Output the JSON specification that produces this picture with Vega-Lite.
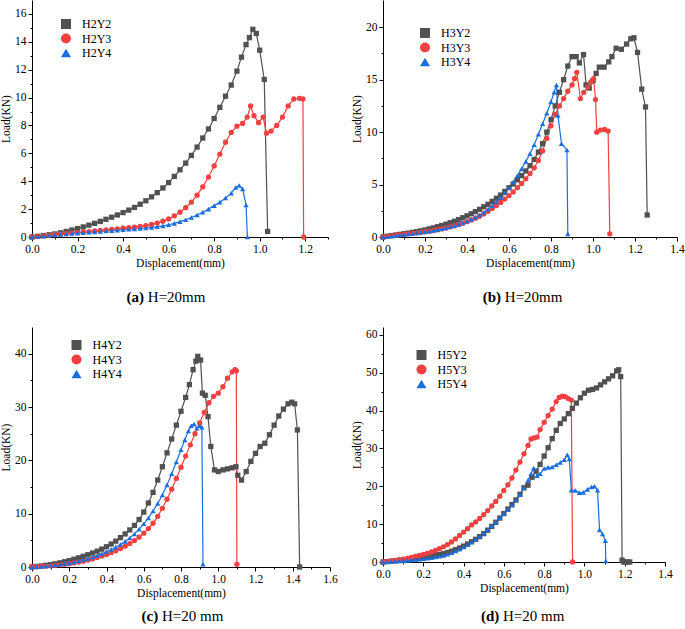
{
"$schema": "https://vega.github.io/schema/vega-lite/v6.json",
"padding": {"left": 0, "top": 0, "right": 0, "bottom": 0},
"background": "white",
"config": {
  "view": {"stroke": null},
  "axis": {"grid": false, "domainColor": "black", "domainWidth": 1, "tickColor": "black", "tickWidth": 1, "tickSize": 4, "labelFont": "Liberation Serif", "labelFontSize": 11.5, "labelColor": "black", "labelPadding": 2, "titleFont": "Liberation Serif", "titleFontSize": 11.5, "titleFontWeight": "normal", "titleColor": "black", "labelFlush": false, "labelOverlap": false},
  "title": {"font": "Liberation Serif", "fontSize": 15, "color": "black", "fontWeight": "bold", "subtitleFont": "Liberation Serif", "subtitleFontSize": 15, "subtitleColor": "black", "subtitleFontWeight": "normal", "subtitlePadding": -15, "orient": "bottom", "anchor": "middle", "frame": "group"},
  "legend": {"padding": 0, "symbolSize": 100, "symbolStrokeWidth": 0, "labelOffset": 10, "rowPadding": 2.5, "labelFont": "Liberation Serif", "labelFontSize": 12, "labelColor": "black"}
},
"resolve": {"scale": {"color": "independent", "shape": "independent"}, "legend": {"color": "independent", "shape": "independent"}},
"datasets": {
"a": [
{"s":"H2Y2","x":0,"y":0},{"s":"H2Y2","x":0.025,"y":0.05},{"s":"H2Y2","x":0.05,"y":0.1},{"s":"H2Y2","x":0.075,"y":0.16},{"s":"H2Y2","x":0.1,"y":0.22},{"s":"H2Y2","x":0.125,"y":0.3},{"s":"H2Y2","x":0.15,"y":0.4},{"s":"H2Y2","x":0.175,"y":0.5},{"s":"H2Y2","x":0.2,"y":0.6},{"s":"H2Y2","x":0.225,"y":0.72},{"s":"H2Y2","x":0.25,"y":0.85},{"s":"H2Y2","x":0.275,"y":0.98},{"s":"H2Y2","x":0.3,"y":1.12},{"s":"H2Y2","x":0.325,"y":1.27},{"s":"H2Y2","x":0.35,"y":1.42},{"s":"H2Y2","x":0.375,"y":1.58},{"s":"H2Y2","x":0.4,"y":1.75},{"s":"H2Y2","x":0.425,"y":1.93},{"s":"H2Y2","x":0.45,"y":2.12},{"s":"H2Y2","x":0.475,"y":2.35},{"s":"H2Y2","x":0.5,"y":2.6},{"s":"H2Y2","x":0.525,"y":2.88},{"s":"H2Y2","x":0.55,"y":3.18},{"s":"H2Y2","x":0.575,"y":3.52},{"s":"H2Y2","x":0.6,"y":3.9},{"s":"H2Y2","x":0.625,"y":4.35},{"s":"H2Y2","x":0.65,"y":4.82},{"s":"H2Y2","x":0.675,"y":5.3},{"s":"H2Y2","x":0.7,"y":5.85},{"s":"H2Y2","x":0.725,"y":6.45},{"s":"H2Y2","x":0.75,"y":7.1},{"s":"H2Y2","x":0.775,"y":7.75},{"s":"H2Y2","x":0.8,"y":8.5},{"s":"H2Y2","x":0.825,"y":9.3},{"s":"H2Y2","x":0.85,"y":10.1},{"s":"H2Y2","x":0.875,"y":10.9},{"s":"H2Y2","x":0.9,"y":11.9},{"s":"H2Y2","x":0.92,"y":12.9},{"s":"H2Y2","x":0.94,"y":13.8},{"s":"H2Y2","x":0.955,"y":14.3},{"s":"H2Y2","x":0.97,"y":14.9},{"s":"H2Y2","x":0.985,"y":14.6},{"s":"H2Y2","x":1.0,"y":13.4},{"s":"H2Y2","x":1.02,"y":11.3},{"s":"H2Y2","x":1.035,"y":0.4},
{"s":"H2Y3","x":0,"y":0},{"s":"H2Y3","x":0.025,"y":0.04},{"s":"H2Y3","x":0.05,"y":0.08},{"s":"H2Y3","x":0.075,"y":0.12},{"s":"H2Y3","x":0.1,"y":0.16},{"s":"H2Y3","x":0.125,"y":0.2},{"s":"H2Y3","x":0.15,"y":0.24},{"s":"H2Y3","x":0.175,"y":0.28},{"s":"H2Y3","x":0.2,"y":0.32},{"s":"H2Y3","x":0.225,"y":0.35},{"s":"H2Y3","x":0.25,"y":0.39},{"s":"H2Y3","x":0.275,"y":0.43},{"s":"H2Y3","x":0.3,"y":0.47},{"s":"H2Y3","x":0.325,"y":0.51},{"s":"H2Y3","x":0.35,"y":0.55},{"s":"H2Y3","x":0.375,"y":0.59},{"s":"H2Y3","x":0.4,"y":0.63},{"s":"H2Y3","x":0.425,"y":0.67},{"s":"H2Y3","x":0.45,"y":0.71},{"s":"H2Y3","x":0.475,"y":0.76},{"s":"H2Y3","x":0.5,"y":0.82},{"s":"H2Y3","x":0.525,"y":0.9},{"s":"H2Y3","x":0.55,"y":1.0},{"s":"H2Y3","x":0.575,"y":1.13},{"s":"H2Y3","x":0.6,"y":1.3},{"s":"H2Y3","x":0.625,"y":1.52},{"s":"H2Y3","x":0.65,"y":1.78},{"s":"H2Y3","x":0.675,"y":2.1},{"s":"H2Y3","x":0.7,"y":2.5},{"s":"H2Y3","x":0.725,"y":3.0},{"s":"H2Y3","x":0.75,"y":3.6},{"s":"H2Y3","x":0.775,"y":4.3},{"s":"H2Y3","x":0.8,"y":5.1},{"s":"H2Y3","x":0.825,"y":5.95},{"s":"H2Y3","x":0.85,"y":6.8},{"s":"H2Y3","x":0.875,"y":7.5},{"s":"H2Y3","x":0.9,"y":7.95},{"s":"H2Y3","x":0.925,"y":8.15},{"s":"H2Y3","x":0.945,"y":8.6},{"s":"H2Y3","x":0.96,"y":9.4},{"s":"H2Y3","x":0.975,"y":8.7},{"s":"H2Y3","x":0.995,"y":8.2},{"s":"H2Y3","x":1.015,"y":8.6},{"s":"H2Y3","x":1.03,"y":7.45},{"s":"H2Y3","x":1.05,"y":7.6},{"s":"H2Y3","x":1.075,"y":8.0},{"s":"H2Y3","x":1.1,"y":8.6},{"s":"H2Y3","x":1.125,"y":9.4},{"s":"H2Y3","x":1.15,"y":9.9},{"s":"H2Y3","x":1.175,"y":9.95},{"s":"H2Y3","x":1.19,"y":9.9},{"s":"H2Y3","x":1.193,"y":0},
{"s":"H2Y4","x":0,"y":0},{"s":"H2Y4","x":0.025,"y":0.04},{"s":"H2Y4","x":0.05,"y":0.08},{"s":"H2Y4","x":0.075,"y":0.12},{"s":"H2Y4","x":0.1,"y":0.16},{"s":"H2Y4","x":0.125,"y":0.19},{"s":"H2Y4","x":0.15,"y":0.22},{"s":"H2Y4","x":0.175,"y":0.25},{"s":"H2Y4","x":0.2,"y":0.28},{"s":"H2Y4","x":0.225,"y":0.31},{"s":"H2Y4","x":0.25,"y":0.34},{"s":"H2Y4","x":0.275,"y":0.37},{"s":"H2Y4","x":0.3,"y":0.4},{"s":"H2Y4","x":0.325,"y":0.43},{"s":"H2Y4","x":0.35,"y":0.46},{"s":"H2Y4","x":0.375,"y":0.49},{"s":"H2Y4","x":0.4,"y":0.52},{"s":"H2Y4","x":0.425,"y":0.55},{"s":"H2Y4","x":0.45,"y":0.58},{"s":"H2Y4","x":0.475,"y":0.61},{"s":"H2Y4","x":0.5,"y":0.65},{"s":"H2Y4","x":0.525,"y":0.69},{"s":"H2Y4","x":0.55,"y":0.74},{"s":"H2Y4","x":0.575,"y":0.8},{"s":"H2Y4","x":0.6,"y":0.88},{"s":"H2Y4","x":0.625,"y":0.98},{"s":"H2Y4","x":0.65,"y":1.1},{"s":"H2Y4","x":0.675,"y":1.24},{"s":"H2Y4","x":0.7,"y":1.4},{"s":"H2Y4","x":0.725,"y":1.58},{"s":"H2Y4","x":0.75,"y":1.78},{"s":"H2Y4","x":0.775,"y":2.0},{"s":"H2Y4","x":0.8,"y":2.25},{"s":"H2Y4","x":0.825,"y":2.5},{"s":"H2Y4","x":0.85,"y":2.8},{"s":"H2Y4","x":0.875,"y":3.15},{"s":"H2Y4","x":0.895,"y":3.55},{"s":"H2Y4","x":0.91,"y":3.7},{"s":"H2Y4","x":0.925,"y":3.45},{"s":"H2Y4","x":0.94,"y":2.3},{"s":"H2Y4","x":0.946,"y":0}
],
"b": [
{"s":"H3Y2","x":0,"y":0},{"s":"H3Y2","x":0.02,"y":0.07},{"s":"H3Y2","x":0.04,"y":0.13},{"s":"H3Y2","x":0.06,"y":0.19},{"s":"H3Y2","x":0.08,"y":0.25},{"s":"H3Y2","x":0.1,"y":0.31},{"s":"H3Y2","x":0.12,"y":0.37},{"s":"H3Y2","x":0.14,"y":0.44},{"s":"H3Y2","x":0.16,"y":0.51},{"s":"H3Y2","x":0.18,"y":0.59},{"s":"H3Y2","x":0.2,"y":0.67},{"s":"H3Y2","x":0.22,"y":0.77},{"s":"H3Y2","x":0.24,"y":0.87},{"s":"H3Y2","x":0.26,"y":0.98},{"s":"H3Y2","x":0.28,"y":1.1},{"s":"H3Y2","x":0.3,"y":1.22},{"s":"H3Y2","x":0.32,"y":1.36},{"s":"H3Y2","x":0.34,"y":1.5},{"s":"H3Y2","x":0.36,"y":1.66},{"s":"H3Y2","x":0.38,"y":1.84},{"s":"H3Y2","x":0.4,"y":2.02},{"s":"H3Y2","x":0.42,"y":2.22},{"s":"H3Y2","x":0.44,"y":2.42},{"s":"H3Y2","x":0.46,"y":2.64},{"s":"H3Y2","x":0.48,"y":2.88},{"s":"H3Y2","x":0.5,"y":3.12},{"s":"H3Y2","x":0.52,"y":3.4},{"s":"H3Y2","x":0.54,"y":3.7},{"s":"H3Y2","x":0.56,"y":4.0},{"s":"H3Y2","x":0.58,"y":4.35},{"s":"H3Y2","x":0.6,"y":4.7},{"s":"H3Y2","x":0.62,"y":5.05},{"s":"H3Y2","x":0.64,"y":5.45},{"s":"H3Y2","x":0.66,"y":5.85},{"s":"H3Y2","x":0.68,"y":6.3},{"s":"H3Y2","x":0.7,"y":6.8},{"s":"H3Y2","x":0.72,"y":7.4},{"s":"H3Y2","x":0.74,"y":8.1},{"s":"H3Y2","x":0.76,"y":8.9},{"s":"H3Y2","x":0.78,"y":10.0},{"s":"H3Y2","x":0.8,"y":11.2},{"s":"H3Y2","x":0.82,"y":12.5},{"s":"H3Y2","x":0.84,"y":13.8},{"s":"H3Y2","x":0.86,"y":15.0},{"s":"H3Y2","x":0.88,"y":16.3},{"s":"H3Y2","x":0.9,"y":17.2},{"s":"H3Y2","x":0.92,"y":17.2},{"s":"H3Y2","x":0.935,"y":16.6},{"s":"H3Y2","x":0.955,"y":17.4},{"s":"H3Y2","x":0.967,"y":14.5},{"s":"H3Y2","x":0.982,"y":14.2},{"s":"H3Y2","x":1.0,"y":14.9},{"s":"H3Y2","x":1.015,"y":15.6},{"s":"H3Y2","x":1.03,"y":16.2},{"s":"H3Y2","x":1.053,"y":16.2},{"s":"H3Y2","x":1.075,"y":16.7},{"s":"H3Y2","x":1.09,"y":17.2},{"s":"H3Y2","x":1.11,"y":18.0},{"s":"H3Y2","x":1.135,"y":17.9},{"s":"H3Y2","x":1.16,"y":18.4},{"s":"H3Y2","x":1.18,"y":18.9},{"s":"H3Y2","x":1.195,"y":19.0},{"s":"H3Y2","x":1.212,"y":17.6},{"s":"H3Y2","x":1.232,"y":14.1},{"s":"H3Y2","x":1.25,"y":12.4},{"s":"H3Y2","x":1.258,"y":2.1},
{"s":"H3Y3","x":0,"y":0},{"s":"H3Y3","x":0.02,"y":0.06},{"s":"H3Y3","x":0.04,"y":0.11},{"s":"H3Y3","x":0.06,"y":0.16},{"s":"H3Y3","x":0.08,"y":0.2},{"s":"H3Y3","x":0.1,"y":0.25},{"s":"H3Y3","x":0.12,"y":0.3},{"s":"H3Y3","x":0.14,"y":0.35},{"s":"H3Y3","x":0.16,"y":0.4},{"s":"H3Y3","x":0.18,"y":0.45},{"s":"H3Y3","x":0.2,"y":0.5},{"s":"H3Y3","x":0.22,"y":0.56},{"s":"H3Y3","x":0.24,"y":0.62},{"s":"H3Y3","x":0.26,"y":0.69},{"s":"H3Y3","x":0.28,"y":0.77},{"s":"H3Y3","x":0.3,"y":0.86},{"s":"H3Y3","x":0.32,"y":0.96},{"s":"H3Y3","x":0.34,"y":1.07},{"s":"H3Y3","x":0.36,"y":1.19},{"s":"H3Y3","x":0.38,"y":1.32},{"s":"H3Y3","x":0.4,"y":1.46},{"s":"H3Y3","x":0.42,"y":1.62},{"s":"H3Y3","x":0.44,"y":1.79},{"s":"H3Y3","x":0.46,"y":1.98},{"s":"H3Y3","x":0.48,"y":2.2},{"s":"H3Y3","x":0.5,"y":2.45},{"s":"H3Y3","x":0.52,"y":2.72},{"s":"H3Y3","x":0.54,"y":3.0},{"s":"H3Y3","x":0.56,"y":3.3},{"s":"H3Y3","x":0.58,"y":3.62},{"s":"H3Y3","x":0.6,"y":3.95},{"s":"H3Y3","x":0.62,"y":4.3},{"s":"H3Y3","x":0.64,"y":4.7},{"s":"H3Y3","x":0.66,"y":5.1},{"s":"H3Y3","x":0.68,"y":5.55},{"s":"H3Y3","x":0.7,"y":6.05},{"s":"H3Y3","x":0.72,"y":6.6},{"s":"H3Y3","x":0.74,"y":7.3},{"s":"H3Y3","x":0.76,"y":8.2},{"s":"H3Y3","x":0.78,"y":9.4},{"s":"H3Y3","x":0.8,"y":10.6},{"s":"H3Y3","x":0.82,"y":11.7},{"s":"H3Y3","x":0.84,"y":12.5},{"s":"H3Y3","x":0.86,"y":13.2},{"s":"H3Y3","x":0.88,"y":13.9},{"s":"H3Y3","x":0.9,"y":14.5},{"s":"H3Y3","x":0.912,"y":15.1},{"s":"H3Y3","x":0.923,"y":15.7},{"s":"H3Y3","x":0.94,"y":13.2},{"s":"H3Y3","x":0.956,"y":13.8},{"s":"H3Y3","x":0.975,"y":14.3},{"s":"H3Y3","x":0.99,"y":14.8},{"s":"H3Y3","x":1.003,"y":15.1},{"s":"H3Y3","x":1.012,"y":13.1},{"s":"H3Y3","x":1.018,"y":10.0},{"s":"H3Y3","x":1.035,"y":10.2},{"s":"H3Y3","x":1.055,"y":10.25},{"s":"H3Y3","x":1.072,"y":10.1},{"s":"H3Y3","x":1.08,"y":0.3},
{"s":"H3Y4","x":0,"y":0},{"s":"H3Y4","x":0.02,"y":0.05},{"s":"H3Y4","x":0.04,"y":0.1},{"s":"H3Y4","x":0.06,"y":0.15},{"s":"H3Y4","x":0.08,"y":0.2},{"s":"H3Y4","x":0.1,"y":0.24},{"s":"H3Y4","x":0.12,"y":0.29},{"s":"H3Y4","x":0.14,"y":0.34},{"s":"H3Y4","x":0.16,"y":0.39},{"s":"H3Y4","x":0.18,"y":0.44},{"s":"H3Y4","x":0.2,"y":0.5},{"s":"H3Y4","x":0.22,"y":0.56},{"s":"H3Y4","x":0.24,"y":0.63},{"s":"H3Y4","x":0.26,"y":0.7},{"s":"H3Y4","x":0.28,"y":0.78},{"s":"H3Y4","x":0.3,"y":0.87},{"s":"H3Y4","x":0.32,"y":0.97},{"s":"H3Y4","x":0.34,"y":1.08},{"s":"H3Y4","x":0.36,"y":1.2},{"s":"H3Y4","x":0.38,"y":1.34},{"s":"H3Y4","x":0.4,"y":1.5},{"s":"H3Y4","x":0.42,"y":1.68},{"s":"H3Y4","x":0.44,"y":1.88},{"s":"H3Y4","x":0.46,"y":2.1},{"s":"H3Y4","x":0.48,"y":2.36},{"s":"H3Y4","x":0.5,"y":2.65},{"s":"H3Y4","x":0.52,"y":2.98},{"s":"H3Y4","x":0.54,"y":3.35},{"s":"H3Y4","x":0.56,"y":3.75},{"s":"H3Y4","x":0.58,"y":4.2},{"s":"H3Y4","x":0.6,"y":4.7},{"s":"H3Y4","x":0.62,"y":5.25},{"s":"H3Y4","x":0.64,"y":5.85},{"s":"H3Y4","x":0.66,"y":6.5},{"s":"H3Y4","x":0.68,"y":7.2},{"s":"H3Y4","x":0.7,"y":7.95},{"s":"H3Y4","x":0.72,"y":8.8},{"s":"H3Y4","x":0.74,"y":9.8},{"s":"H3Y4","x":0.76,"y":10.8},{"s":"H3Y4","x":0.78,"y":11.8},{"s":"H3Y4","x":0.8,"y":12.9},{"s":"H3Y4","x":0.815,"y":13.8},{"s":"H3Y4","x":0.826,"y":14.5},{"s":"H3Y4","x":0.833,"y":11.6},{"s":"H3Y4","x":0.85,"y":8.9},{"s":"H3Y4","x":0.876,"y":8.3},{"s":"H3Y4","x":0.88,"y":0.3}
],
"c": [
{"s":"H4Y2","x":0,"y":0},{"s":"H4Y2","x":0.025,"y":0.1},{"s":"H4Y2","x":0.05,"y":0.2},{"s":"H4Y2","x":0.075,"y":0.32},{"s":"H4Y2","x":0.1,"y":0.45},{"s":"H4Y2","x":0.125,"y":0.6},{"s":"H4Y2","x":0.15,"y":0.78},{"s":"H4Y2","x":0.175,"y":0.98},{"s":"H4Y2","x":0.2,"y":1.2},{"s":"H4Y2","x":0.225,"y":1.45},{"s":"H4Y2","x":0.25,"y":1.72},{"s":"H4Y2","x":0.275,"y":2.0},{"s":"H4Y2","x":0.3,"y":2.3},{"s":"H4Y2","x":0.325,"y":2.62},{"s":"H4Y2","x":0.35,"y":2.97},{"s":"H4Y2","x":0.375,"y":3.35},{"s":"H4Y2","x":0.4,"y":3.8},{"s":"H4Y2","x":0.425,"y":4.3},{"s":"H4Y2","x":0.45,"y":4.85},{"s":"H4Y2","x":0.475,"y":5.5},{"s":"H4Y2","x":0.5,"y":6.2},{"s":"H4Y2","x":0.525,"y":6.95},{"s":"H4Y2","x":0.55,"y":7.8},{"s":"H4Y2","x":0.575,"y":8.9},{"s":"H4Y2","x":0.6,"y":10.3},{"s":"H4Y2","x":0.625,"y":12.0},{"s":"H4Y2","x":0.65,"y":14.0},{"s":"H4Y2","x":0.675,"y":16.3},{"s":"H4Y2","x":0.7,"y":18.8},{"s":"H4Y2","x":0.725,"y":21.4},{"s":"H4Y2","x":0.75,"y":24.0},{"s":"H4Y2","x":0.775,"y":26.6},{"s":"H4Y2","x":0.8,"y":29.2},{"s":"H4Y2","x":0.825,"y":31.8},{"s":"H4Y2","x":0.845,"y":34.2},{"s":"H4Y2","x":0.865,"y":37.0},{"s":"H4Y2","x":0.88,"y":38.6},{"s":"H4Y2","x":0.89,"y":39.5},{"s":"H4Y2","x":0.905,"y":38.8},{"s":"H4Y2","x":0.915,"y":32.6},{"s":"H4Y2","x":0.93,"y":32.2},{"s":"H4Y2","x":0.945,"y":28.2},{"s":"H4Y2","x":0.96,"y":22.6},{"s":"H4Y2","x":0.98,"y":18.2},{"s":"H4Y2","x":1.0,"y":17.9},{"s":"H4Y2","x":1.025,"y":18.2},{"s":"H4Y2","x":1.05,"y":18.4},{"s":"H4Y2","x":1.075,"y":18.6},{"s":"H4Y2","x":1.095,"y":18.8},{"s":"H4Y2","x":1.105,"y":17.2},{"s":"H4Y2","x":1.125,"y":16.3},{"s":"H4Y2","x":1.15,"y":17.9},{"s":"H4Y2","x":1.175,"y":19.8},{"s":"H4Y2","x":1.2,"y":21.3},{"s":"H4Y2","x":1.225,"y":22.6},{"s":"H4Y2","x":1.25,"y":23.2},{"s":"H4Y2","x":1.275,"y":24.8},{"s":"H4Y2","x":1.3,"y":26.6},{"s":"H4Y2","x":1.325,"y":28.3},{"s":"H4Y2","x":1.35,"y":29.6},{"s":"H4Y2","x":1.375,"y":30.6},{"s":"H4Y2","x":1.395,"y":30.9},{"s":"H4Y2","x":1.41,"y":30.6},{"s":"H4Y2","x":1.425,"y":25.7},{"s":"H4Y2","x":1.437,"y":0},
{"s":"H4Y3","x":0,"y":0},{"s":"H4Y3","x":0.025,"y":0.05},{"s":"H4Y3","x":0.05,"y":0.1},{"s":"H4Y3","x":0.075,"y":0.16},{"s":"H4Y3","x":0.1,"y":0.23},{"s":"H4Y3","x":0.125,"y":0.31},{"s":"H4Y3","x":0.15,"y":0.4},{"s":"H4Y3","x":0.175,"y":0.5},{"s":"H4Y3","x":0.2,"y":0.62},{"s":"H4Y3","x":0.225,"y":0.76},{"s":"H4Y3","x":0.25,"y":0.92},{"s":"H4Y3","x":0.275,"y":1.1},{"s":"H4Y3","x":0.3,"y":1.3},{"s":"H4Y3","x":0.325,"y":1.52},{"s":"H4Y3","x":0.35,"y":1.77},{"s":"H4Y3","x":0.375,"y":2.05},{"s":"H4Y3","x":0.4,"y":2.35},{"s":"H4Y3","x":0.425,"y":2.68},{"s":"H4Y3","x":0.45,"y":3.05},{"s":"H4Y3","x":0.475,"y":3.45},{"s":"H4Y3","x":0.5,"y":3.9},{"s":"H4Y3","x":0.525,"y":4.4},{"s":"H4Y3","x":0.55,"y":4.95},{"s":"H4Y3","x":0.575,"y":5.6},{"s":"H4Y3","x":0.6,"y":6.35},{"s":"H4Y3","x":0.625,"y":7.2},{"s":"H4Y3","x":0.65,"y":8.2},{"s":"H4Y3","x":0.675,"y":9.5},{"s":"H4Y3","x":0.7,"y":11.0},{"s":"H4Y3","x":0.725,"y":12.7},{"s":"H4Y3","x":0.75,"y":14.6},{"s":"H4Y3","x":0.775,"y":16.6},{"s":"H4Y3","x":0.8,"y":18.7},{"s":"H4Y3","x":0.825,"y":20.8},{"s":"H4Y3","x":0.85,"y":22.9},{"s":"H4Y3","x":0.875,"y":25.0},{"s":"H4Y3","x":0.9,"y":27.0},{"s":"H4Y3","x":0.925,"y":29.0},{"s":"H4Y3","x":0.95,"y":30.8},{"s":"H4Y3","x":0.975,"y":32.0},{"s":"H4Y3","x":1.0,"y":32.6},{"s":"H4Y3","x":1.025,"y":33.8},{"s":"H4Y3","x":1.05,"y":35.4},{"s":"H4Y3","x":1.075,"y":36.6},{"s":"H4Y3","x":1.09,"y":37.0},{"s":"H4Y3","x":1.097,"y":36.8},{"s":"H4Y3","x":1.1,"y":0.5},
{"s":"H4Y4","x":0,"y":0},{"s":"H4Y4","x":0.025,"y":0.06},{"s":"H4Y4","x":0.05,"y":0.12},{"s":"H4Y4","x":0.075,"y":0.2},{"s":"H4Y4","x":0.1,"y":0.29},{"s":"H4Y4","x":0.125,"y":0.39},{"s":"H4Y4","x":0.15,"y":0.5},{"s":"H4Y4","x":0.175,"y":0.63},{"s":"H4Y4","x":0.2,"y":0.78},{"s":"H4Y4","x":0.225,"y":0.95},{"s":"H4Y4","x":0.25,"y":1.14},{"s":"H4Y4","x":0.275,"y":1.36},{"s":"H4Y4","x":0.3,"y":1.6},{"s":"H4Y4","x":0.325,"y":1.87},{"s":"H4Y4","x":0.35,"y":2.17},{"s":"H4Y4","x":0.375,"y":2.5},{"s":"H4Y4","x":0.4,"y":2.87},{"s":"H4Y4","x":0.425,"y":3.27},{"s":"H4Y4","x":0.45,"y":3.72},{"s":"H4Y4","x":0.475,"y":4.22},{"s":"H4Y4","x":0.5,"y":4.8},{"s":"H4Y4","x":0.525,"y":5.45},{"s":"H4Y4","x":0.55,"y":6.2},{"s":"H4Y4","x":0.575,"y":7.1},{"s":"H4Y4","x":0.6,"y":8.1},{"s":"H4Y4","x":0.625,"y":9.2},{"s":"H4Y4","x":0.65,"y":10.5},{"s":"H4Y4","x":0.675,"y":11.9},{"s":"H4Y4","x":0.7,"y":13.5},{"s":"H4Y4","x":0.725,"y":15.4},{"s":"H4Y4","x":0.75,"y":17.5},{"s":"H4Y4","x":0.775,"y":19.7},{"s":"H4Y4","x":0.8,"y":22.0},{"s":"H4Y4","x":0.82,"y":23.8},{"s":"H4Y4","x":0.84,"y":25.5},{"s":"H4Y4","x":0.855,"y":26.5},{"s":"H4Y4","x":0.87,"y":26.8},{"s":"H4Y4","x":0.885,"y":26.0},{"s":"H4Y4","x":0.9,"y":26.5},{"s":"H4Y4","x":0.912,"y":26.2},{"s":"H4Y4","x":0.918,"y":0.5}
],
"d": [
{"s":"H5Y2","x":0,"y":0},{"s":"H5Y2","x":0.02,"y":0.1},{"s":"H5Y2","x":0.04,"y":0.2},{"s":"H5Y2","x":0.06,"y":0.3},{"s":"H5Y2","x":0.08,"y":0.4},{"s":"H5Y2","x":0.1,"y":0.5},{"s":"H5Y2","x":0.12,"y":0.6},{"s":"H5Y2","x":0.14,"y":0.72},{"s":"H5Y2","x":0.16,"y":0.85},{"s":"H5Y2","x":0.18,"y":1.0},{"s":"H5Y2","x":0.2,"y":1.15},{"s":"H5Y2","x":0.22,"y":1.3},{"s":"H5Y2","x":0.24,"y":1.5},{"s":"H5Y2","x":0.26,"y":1.7},{"s":"H5Y2","x":0.28,"y":1.95},{"s":"H5Y2","x":0.3,"y":2.2},{"s":"H5Y2","x":0.32,"y":2.5},{"s":"H5Y2","x":0.34,"y":2.85},{"s":"H5Y2","x":0.36,"y":3.25},{"s":"H5Y2","x":0.38,"y":3.7},{"s":"H5Y2","x":0.4,"y":4.2},{"s":"H5Y2","x":0.42,"y":4.75},{"s":"H5Y2","x":0.44,"y":5.35},{"s":"H5Y2","x":0.46,"y":6.0},{"s":"H5Y2","x":0.48,"y":6.7},{"s":"H5Y2","x":0.5,"y":7.5},{"s":"H5Y2","x":0.52,"y":8.4},{"s":"H5Y2","x":0.54,"y":9.4},{"s":"H5Y2","x":0.56,"y":10.5},{"s":"H5Y2","x":0.58,"y":11.6},{"s":"H5Y2","x":0.6,"y":12.8},{"s":"H5Y2","x":0.62,"y":14.0},{"s":"H5Y2","x":0.64,"y":15.2},{"s":"H5Y2","x":0.66,"y":16.4},{"s":"H5Y2","x":0.68,"y":17.9},{"s":"H5Y2","x":0.7,"y":19.6},{"s":"H5Y2","x":0.72,"y":20.3},{"s":"H5Y2","x":0.74,"y":22.4},{"s":"H5Y2","x":0.76,"y":24.0},{"s":"H5Y2","x":0.78,"y":25.8},{"s":"H5Y2","x":0.8,"y":28.0},{"s":"H5Y2","x":0.82,"y":30.2},{"s":"H5Y2","x":0.84,"y":32.6},{"s":"H5Y2","x":0.86,"y":34.8},{"s":"H5Y2","x":0.88,"y":36.6},{"s":"H5Y2","x":0.9,"y":37.8},{"s":"H5Y2","x":0.92,"y":39.2},{"s":"H5Y2","x":0.94,"y":40.6},{"s":"H5Y2","x":0.96,"y":42.0},{"s":"H5Y2","x":0.98,"y":43.4},{"s":"H5Y2","x":1.0,"y":44.6},{"s":"H5Y2","x":1.02,"y":45.4},{"s":"H5Y2","x":1.04,"y":45.6},{"s":"H5Y2","x":1.06,"y":46.0},{"s":"H5Y2","x":1.08,"y":46.8},{"s":"H5Y2","x":1.1,"y":47.6},{"s":"H5Y2","x":1.12,"y":48.4},{"s":"H5Y2","x":1.14,"y":49.2},{"s":"H5Y2","x":1.16,"y":50.5},{"s":"H5Y2","x":1.17,"y":50.8},{"s":"H5Y2","x":1.18,"y":49.0},{"s":"H5Y2","x":1.187,"y":0.5},{"s":"H5Y2","x":1.195,"y":0},{"s":"H5Y2","x":1.205,"y":0},{"s":"H5Y2","x":1.215,"y":0},{"s":"H5Y2","x":1.225,"y":0},
{"s":"H5Y3","x":0,"y":0},{"s":"H5Y3","x":0.02,"y":0.15},{"s":"H5Y3","x":0.04,"y":0.3},{"s":"H5Y3","x":0.06,"y":0.45},{"s":"H5Y3","x":0.08,"y":0.6},{"s":"H5Y3","x":0.1,"y":0.78},{"s":"H5Y3","x":0.12,"y":0.98},{"s":"H5Y3","x":0.14,"y":1.2},{"s":"H5Y3","x":0.16,"y":1.45},{"s":"H5Y3","x":0.18,"y":1.72},{"s":"H5Y3","x":0.2,"y":2.0},{"s":"H5Y3","x":0.22,"y":2.3},{"s":"H5Y3","x":0.24,"y":2.65},{"s":"H5Y3","x":0.26,"y":3.05},{"s":"H5Y3","x":0.28,"y":3.5},{"s":"H5Y3","x":0.3,"y":4.0},{"s":"H5Y3","x":0.32,"y":4.6},{"s":"H5Y3","x":0.34,"y":5.3},{"s":"H5Y3","x":0.36,"y":6.1},{"s":"H5Y3","x":0.38,"y":7.0},{"s":"H5Y3","x":0.4,"y":7.9},{"s":"H5Y3","x":0.42,"y":8.8},{"s":"H5Y3","x":0.44,"y":9.8},{"s":"H5Y3","x":0.46,"y":10.6},{"s":"H5Y3","x":0.48,"y":11.5},{"s":"H5Y3","x":0.5,"y":12.5},{"s":"H5Y3","x":0.52,"y":13.6},{"s":"H5Y3","x":0.54,"y":14.8},{"s":"H5Y3","x":0.56,"y":16.0},{"s":"H5Y3","x":0.58,"y":17.4},{"s":"H5Y3","x":0.6,"y":18.9},{"s":"H5Y3","x":0.62,"y":20.4},{"s":"H5Y3","x":0.64,"y":22.2},{"s":"H5Y3","x":0.66,"y":24.3},{"s":"H5Y3","x":0.68,"y":26.4},{"s":"H5Y3","x":0.7,"y":28.6},{"s":"H5Y3","x":0.72,"y":30.8},{"s":"H5Y3","x":0.735,"y":32.5},{"s":"H5Y3","x":0.75,"y":32.8},{"s":"H5Y3","x":0.765,"y":33.0},{"s":"H5Y3","x":0.78,"y":35.0},{"s":"H5Y3","x":0.8,"y":36.9},{"s":"H5Y3","x":0.82,"y":38.7},{"s":"H5Y3","x":0.84,"y":40.4},{"s":"H5Y3","x":0.86,"y":42.4},{"s":"H5Y3","x":0.875,"y":43.5},{"s":"H5Y3","x":0.89,"y":43.8},{"s":"H5Y3","x":0.905,"y":43.7},{"s":"H5Y3","x":0.92,"y":43.2},{"s":"H5Y3","x":0.935,"y":42.8},{"s":"H5Y3","x":0.941,"y":0},
{"s":"H5Y4","x":0,"y":0},{"s":"H5Y4","x":0.02,"y":0.08},{"s":"H5Y4","x":0.04,"y":0.15},{"s":"H5Y4","x":0.06,"y":0.22},{"s":"H5Y4","x":0.08,"y":0.3},{"s":"H5Y4","x":0.1,"y":0.38},{"s":"H5Y4","x":0.12,"y":0.46},{"s":"H5Y4","x":0.14,"y":0.55},{"s":"H5Y4","x":0.16,"y":0.65},{"s":"H5Y4","x":0.18,"y":0.76},{"s":"H5Y4","x":0.2,"y":0.88},{"s":"H5Y4","x":0.22,"y":1.0},{"s":"H5Y4","x":0.24,"y":1.15},{"s":"H5Y4","x":0.26,"y":1.3},{"s":"H5Y4","x":0.28,"y":1.5},{"s":"H5Y4","x":0.3,"y":1.75},{"s":"H5Y4","x":0.32,"y":2.05},{"s":"H5Y4","x":0.34,"y":2.45},{"s":"H5Y4","x":0.36,"y":2.9},{"s":"H5Y4","x":0.38,"y":3.4},{"s":"H5Y4","x":0.4,"y":3.95},{"s":"H5Y4","x":0.42,"y":4.6},{"s":"H5Y4","x":0.44,"y":5.3},{"s":"H5Y4","x":0.46,"y":6.0},{"s":"H5Y4","x":0.48,"y":6.8},{"s":"H5Y4","x":0.5,"y":7.7},{"s":"H5Y4","x":0.52,"y":8.6},{"s":"H5Y4","x":0.54,"y":9.6},{"s":"H5Y4","x":0.56,"y":10.6},{"s":"H5Y4","x":0.58,"y":11.7},{"s":"H5Y4","x":0.6,"y":12.8},{"s":"H5Y4","x":0.62,"y":13.9},{"s":"H5Y4","x":0.64,"y":15.0},{"s":"H5Y4","x":0.66,"y":16.3},{"s":"H5Y4","x":0.68,"y":17.8},{"s":"H5Y4","x":0.7,"y":19.6},{"s":"H5Y4","x":0.72,"y":21.6},{"s":"H5Y4","x":0.735,"y":23.3},{"s":"H5Y4","x":0.748,"y":24.8},{"s":"H5Y4","x":0.765,"y":22.8},{"s":"H5Y4","x":0.78,"y":23.3},{"s":"H5Y4","x":0.8,"y":24.7},{"s":"H5Y4","x":0.82,"y":25.0},{"s":"H5Y4","x":0.84,"y":25.1},{"s":"H5Y4","x":0.86,"y":25.7},{"s":"H5Y4","x":0.88,"y":26.3},{"s":"H5Y4","x":0.9,"y":27.0},{"s":"H5Y4","x":0.915,"y":28.3},{"s":"H5Y4","x":0.925,"y":27.2},{"s":"H5Y4","x":0.935,"y":19.0},{"s":"H5Y4","x":0.955,"y":18.9},{"s":"H5Y4","x":0.975,"y":18.3},{"s":"H5Y4","x":0.995,"y":18.4},{"s":"H5Y4","x":1.015,"y":19.2},{"s":"H5Y4","x":1.035,"y":19.8},{"s":"H5Y4","x":1.05,"y":20.0},{"s":"H5Y4","x":1.065,"y":19.0},{"s":"H5Y4","x":1.075,"y":8.5},{"s":"H5Y4","x":1.09,"y":7.4},{"s":"H5Y4","x":1.104,"y":5.6},{"s":"H5Y4","x":1.106,"y":0.3}
]
},
"concat": [
   {"width": 296, "height": 237, "data": {"name": "a"},
    "title": {"text": "(a)", "subtitle": "H=20mm", "align": "left", "dx": -32.2, "offset": 21, "encoding": {"align": {"value": "right"}, "dx": {"value": -35.95}}},
    "encoding": {
     "x": {"field": "x", "type": "quantitative", "scale": {"domain": [0, 1.3], "nice": false}, "axis": {"title": "Displacement(mm)", "values": [0,0.1,0.2,0.3,0.4,0.5,0.6,0.7,0.8,0.9,1,1.1,1.2,1.3], "labelExpr": "abs(datum.value*5-round(datum.value*5))<0.001 ? format(datum.value,'.1f') : ''", "tickSize": {"condition": {"test": "abs(datum.value*5-round(datum.value*5))<0.001", "value": 4}, "value": 2}, "titlePadding": 3}},
     "y": {"field": "y", "type": "quantitative", "scale": {"domain": [0, 17], "nice": false}, "axis": {"title": "Load(KN)", "values": [0,1,2,3,4,5,6,7,8,9,10,11,12,13,14,15,16], "labelExpr": "datum.value % 2 === 0 ? format(datum.value,'.0f') : ''", "tickSize": {"condition": {"test": "datum.value % 2 === 0", "value": 4}, "value": 2}, "titlePadding": 3}}
    },
    "layer": [
     {"mark": {"type": "line", "strokeWidth": 1.2}, "encoding": {"color": {"field": "s", "type": "nominal", "scale": {"domain": ["H2Y2","H2Y3","H2Y4"], "range": ["#515151","#F14040","#1A6FDF"]}}}},
     {"mark": {"type": "point", "filled": true, "opacity": 1, "size": 28}, "encoding": {
      "color": {"field": "s", "type": "nominal", "scale": {"domain": ["H2Y2","H2Y3","H2Y4"], "range": ["#515151","#F14040","#1A6FDF"]},
       "legend": {"orient": "none", "legendX": 28, "legendY": 18, "title": null}},
      "shape": {"field": "s", "type": "nominal", "scale": {"domain": ["H2Y2","H2Y3","H2Y4"], "range": ["square","circle","triangle-up"]}, "legend": null}}}
    ]},
   {"width": 294, "height": 237, "data": {"name": "b"},
    "title": {"text": "(b)", "subtitle": "H=20mm", "align": "left", "dx": -25.2, "offset": 21, "encoding": {"align": {"value": "right"}, "dx": {"value": -28.95}}},
    "encoding": {
     "x": {"field": "x", "type": "quantitative", "scale": {"domain": [0, 1.4], "nice": false}, "axis": {"title": "Displacement(mm)", "values": [0,0.1,0.2,0.3,0.4,0.5,0.6,0.7,0.8,0.9,1,1.1,1.2,1.3,1.4], "labelExpr": "abs(datum.value*5-round(datum.value*5))<0.001 ? format(datum.value,'.1f') : ''", "tickSize": {"condition": {"test": "abs(datum.value*5-round(datum.value*5))<0.001", "value": 4}, "value": 2}, "titlePadding": 3}},
     "y": {"field": "y", "type": "quantitative", "scale": {"domain": [0, 22.6], "nice": false}, "axis": {"title": "Load(KN)", "values": [0,2.5,5,7.5,10,12.5,15,17.5,20], "labelExpr": "datum.value % 5 === 0 ? format(datum.value,'.0f') : ''", "tickSize": {"condition": {"test": "datum.value % 5 === 0", "value": 4}, "value": 2}, "titlePadding": 3}}
    },
    "layer": [
     {"mark": {"type": "line", "strokeWidth": 1.2}, "encoding": {"color": {"field": "s", "type": "nominal", "scale": {"domain": ["H3Y2","H3Y3","H3Y4"], "range": ["#515151","#F14040","#1A6FDF"]}}}},
     {"mark": {"type": "point", "filled": true, "opacity": 1, "size": 28}, "encoding": {
      "color": {"field": "s", "type": "nominal", "scale": {"domain": ["H3Y2","H3Y3","H3Y4"], "range": ["#515151","#F14040","#1A6FDF"]},
       "legend": {"orient": "none", "legendX": 36, "legendY": 27, "title": null}},
      "shape": {"field": "s", "type": "nominal", "scale": {"domain": ["H3Y2","H3Y3","H3Y4"], "range": ["square","circle","triangle-up"]}, "legend": null}}}
    ]},
   {"width": 298, "height": 240, "data": {"name": "c"},
    "title": {"text": "(c)", "subtitle": "H=20 mm", "align": "left", "dx": -19, "offset": 10, "encoding": {"align": {"value": "right"}, "dx": {"value": -22.75}}},
    "encoding": {
     "x": {"field": "x", "type": "quantitative", "scale": {"domain": [0, 1.6], "nice": false}, "axis": {"title": "Displacement(mm)", "values": [0,0.1,0.2,0.3,0.4,0.5,0.6,0.7,0.8,0.9,1,1.1,1.2,1.3,1.4,1.5,1.6], "labelExpr": "abs(datum.value*5-round(datum.value*5))<0.001 ? format(datum.value,'.1f') : ''", "tickSize": {"condition": {"test": "abs(datum.value*5-round(datum.value*5))<0.001", "value": 4}, "value": 2}, "titlePadding": 3}},
     "y": {"field": "y", "type": "quantitative", "scale": {"domain": [0, 45], "nice": false}, "axis": {"title": "Load(KN)", "values": [0,5,10,15,20,25,30,35,40], "labelExpr": "datum.value % 10 === 0 ? format(datum.value,'.0f') : ''", "tickSize": {"condition": {"test": "datum.value % 10 === 0", "value": 4}, "value": 2}, "titlePadding": 3}}
    },
    "layer": [
     {"mark": {"type": "line", "strokeWidth": 1.2}, "encoding": {"color": {"field": "s", "type": "nominal", "scale": {"domain": ["H4Y2","H4Y3","H4Y4"], "range": ["#515151","#F14040","#1A6FDF"]}}}},
     {"mark": {"type": "point", "filled": true, "opacity": 1, "size": 28}, "encoding": {
      "color": {"field": "s", "type": "nominal", "scale": {"domain": ["H4Y2","H4Y3","H4Y4"], "range": ["#515151","#F14040","#1A6FDF"]},
       "legend": {"orient": "none", "legendX": 38.5, "legendY": 12, "title": null}},
      "shape": {"field": "s", "type": "nominal", "scale": {"domain": ["H4Y2","H4Y3","H4Y4"], "range": ["square","circle","triangle-up"]}, "legend": null}}}
    ]},
   {"width": 282, "height": 235, "data": {"name": "d"},
    "title": {"text": "(d)", "subtitle": "H=20 mm", "align": "left", "dx": -21, "offset": 15, "encoding": {"align": {"value": "right"}, "dx": {"value": -24.75}}},
    "encoding": {
     "x": {"field": "x", "type": "quantitative", "scale": {"domain": [0, 1.4], "nice": false}, "axis": {"title": "Displacement(mm)", "values": [0,0.1,0.2,0.3,0.4,0.5,0.6,0.7,0.8,0.9,1,1.1,1.2,1.3,1.4], "labelExpr": "abs(datum.value*5-round(datum.value*5))<0.001 ? format(datum.value,'.1f') : ''", "tickSize": {"condition": {"test": "abs(datum.value*5-round(datum.value*5))<0.001", "value": 4}, "value": 2}, "titlePadding": 3}},
     "y": {"field": "y", "type": "quantitative", "scale": {"domain": [0, 62.1], "nice": false}, "axis": {"title": "Load(KN)", "values": [0,5,10,15,20,25,30,35,40,45,50,55,60], "labelExpr": "datum.value % 10 === 0 ? format(datum.value,'.0f') : ''", "tickSize": {"condition": {"test": "datum.value % 10 === 0", "value": 4}, "value": 2}, "titlePadding": 3}}
    },
    "layer": [
     {"mark": {"type": "line", "strokeWidth": 1.2}, "encoding": {"color": {"field": "s", "type": "nominal", "scale": {"domain": ["H5Y2","H5Y3","H5Y4"], "range": ["#515151","#F14040","#1A6FDF"]}}}},
     {"mark": {"type": "point", "filled": true, "opacity": 1, "size": 28}, "encoding": {
      "color": {"field": "s", "type": "nominal", "scale": {"domain": ["H5Y2","H5Y3","H5Y4"], "range": ["#515151","#F14040","#1A6FDF"]},
       "legend": {"orient": "none", "legendX": 32.5, "legendY": 22, "title": null}},
      "shape": {"field": "s", "type": "nominal", "scale": {"domain": ["H5Y2","H5Y3","H5Y4"], "range": ["square","circle","triangle-up"]}, "legend": null}}}
    ]}
],
"columns": 2,
"spacing": {"row": 90, "column": 53},
"bounds": "flush"
}
